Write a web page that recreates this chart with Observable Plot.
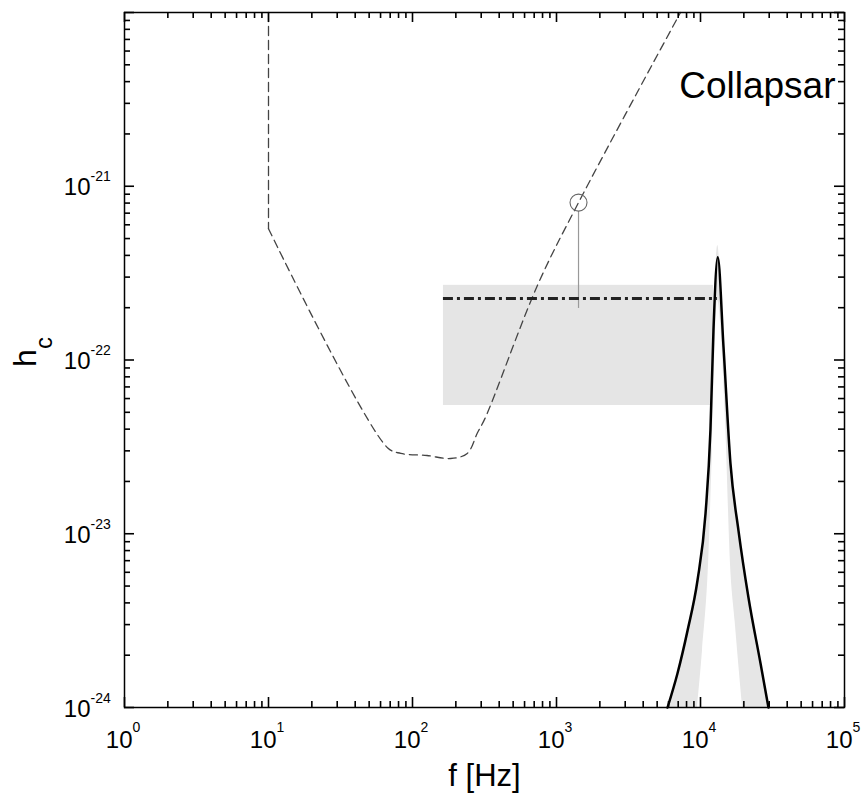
<!DOCTYPE html>
<html>
<head>
<meta charset="utf-8">
<script src="https://cdn.jsdelivr.net/npm/d3@7"></script>
<script src="https://cdn.jsdelivr.net/npm/@observablehq/plot@0.6"></script>
<style>
  html, body { margin: 0; padding: 0; background: #fff; }
  #chart { width: 863px; height: 794px; }
</style>
</head>
<body>
<div id="chart"></div>
<script>
// ---- Data ----
// Detector sensitivity curve (dashed)
const sensF = [10, 10, 67, 83, 126, 184, 240, 282, 321, 738, 1422, 7260];
const sensH = [1e-20, 5.7e-22, 3.13e-23, 2.9e-23, 2.82e-23, 2.71e-23, 2.9e-23, 3.8e-23, 4.67e-23, 2.69e-22, 8.05e-22, 1e-20];

// Collapsar peak (black outline)
const peakF = [5902, 6918, 8128, 9528, 10839, 11722, 12303, 13180, 14454, 16144, 18365, 21528, 26122, 29648];
const peakH = [1e-24, 1.57e-24, 2.77e-24, 5.38e-24, 1.31e-23, 3.94e-23, 1.48e-22, 3.9e-22, 1.18e-22, 2.54e-23, 1.04e-23, 4.3e-24, 1.79e-24, 1e-24];

// Gray envelope around the peak
const envF = [5902, 6918, 8128, 9528, 10839, 11722, 12303, 13180, 14454, 16144, 18365, 21528, 26122, 29648];
const envH = [1e-24, 1.57e-24, 2.77e-24, 5.38e-24, 1.31e-23, 3.94e-23, 1.48e-22, 4.56e-22, 1.18e-22, 2.54e-23, 1.04e-23, 4.3e-24, 1.79e-24, 1e-24];

// Inner (white) part of the peak
const innerF = [9530, 10328, 11376, 12106, 13120, 14928, 16144, 17378, 19588];
const innerH = [1e-24, 2.13e-24, 6.75e-24, 3.01e-23, 2.2e-22, 4.47e-23, 6.75e-24, 3.16e-24, 1e-24];

// Shaded band
const bandF = [164, 12300];
const bandH = [5.47e-23, 2.69e-22];

// Dash-dot level
const levelF = [164, 13100];
const levelH = [2.26e-22];

// Marked point with drop line
const pointF = [1422];
const pointH = [8.05e-22];
const dropH = [1.98e-22];

// Axis ticks
const xMajor = [1, 10, 100, 1000, 10000, 100000];
const xExp = ["0", "1", "2", "3", "4", "5"];
const yMajor = [1e-24, 1e-23, 1e-22, 1e-21, 1e-20];
const yLabeled = [1e-24, 1e-23, 1e-22, 1e-21];
const yExp = ["-24", "-23", "-22", "-21"];
const minorMult = [2, 3, 4, 5, 6, 7, 8, 9];

const label = "Collapsar";
const xLabel = "f [Hz]";

// ---- Build tables ----
const sens = sensF.map((f, i) => ({f, h: sensH[i]}));
const peak = peakF.map((f, i) => ({f, h: peakH[i]}));
const env = envF.map((f, i) => ({f, h: envH[i]}));
const inner = innerF.map((f, i) => ({f, h: innerH[i]}));
const xMinor = xMajor.slice(0, -1).flatMap(d => minorMult.map(m => d * m));
const yMinor = yMajor.slice(0, -1).flatMap(d => minorMult.map(m => d * m));
const xLab = xMajor.map((d, i) => ({d, e: xExp[i]}));
const yLab = yLabeled.map((d, i) => ({d, e: yExp[i]}));
const xLo = xMajor[0], xHi = xMajor[xMajor.length - 1];
const yLo = yMajor[0], yHi = yMajor[yMajor.length - 1];

const W = 863, H = 794, mL = 124, mR = 19, mT = 12, mB = 87;
const fw = W - mL - mR, fh = H - mT - mB;

const font = "'Liberation Sans', Arial, Helvetica, sans-serif";
const tk = {stroke: "black", strokeWidth: 1.6};

// inward ticks: full-frame rules trimmed by insets to a short stub at each edge
const ticksBottom = (v, len) => Plot.ruleX(v, {x: d => d, insetTop: fh - len, ...tk});
const ticksTop = (v, len) => Plot.ruleX(v, {x: d => d, insetBottom: fh - len, ...tk});
const ticksLeft = (v, len) => Plot.ruleY(v, {y: d => d, insetRight: fw - len, ...tk});
const ticksRight = (v, len) => Plot.ruleY(v, {y: d => d, insetLeft: fw - len, ...tk});

const chart = Plot.plot({
  width: W,
  height: H,
  marginLeft: mL,
  marginRight: mR,
  marginTop: mT,
  marginBottom: mB,
  style: {fontFamily: font, background: "white", color: "black"},
  x: {type: "log", domain: [xLo, xHi], axis: null},
  y: {type: "log", domain: [yLo, yHi], axis: null},
  marks: [
    // shaded band
    Plot.rect([0], {x1: bandF[0], x2: bandF[1], y1: bandH[0], y2: bandH[1], fill: "#e5e5e5"}),
    // gray envelope and inner white
    Plot.areaY(env, {x: "f", y1: yLo, y2: "h", fill: "#e6e6e6", curve: "monotone-x"}),
    Plot.areaY(inner, {x: "f", y1: yLo, y2: "h", fill: "white", curve: "monotone-x"}),
    // sensitivity curve
    Plot.line(sens.slice(0, 2), {x: "f", y: "h", stroke: "#444", strokeWidth: 1.3, strokeDasharray: "9,5"}),
    Plot.line(sens.slice(1), {x: "f", y: "h", stroke: "#444", strokeWidth: 1.3, strokeDasharray: "8,5", curve: "catmull-rom"}),
    // drop line and circle
    Plot.ruleX(pointF, {x: d => d, y1: pointH[0], y2: dropH[0], insetTop: 9, stroke: "#999", strokeWidth: 1.2}),
    Plot.dot(pointF, {x: d => d, y: pointH[0], r: 8.5, stroke: "#666", strokeWidth: 1.1, fill: "none"}),
    // dash-dot level
    Plot.ruleY(levelH, {x1: levelF[0], x2: levelF[1], y: d => d, stroke: "#222", strokeWidth: 3, strokeDasharray: "10,4,3,4"}),
    // peak outline
    Plot.line(peak, {x: "f", y: "h", stroke: "black", strokeWidth: 2.5, curve: "monotone-x"}),
    // frame
    Plot.frame({stroke: "black", strokeWidth: 1.5}),
    // inward ticks on all sides
    ticksBottom(xMajor, 10), ticksBottom(xMinor, 6),
    ticksTop(xMajor, 10), ticksTop(xMinor, 6),
    ticksLeft(yMajor, 10), ticksLeft(yMinor, 6),
    ticksRight(yMajor, 10), ticksRight(yMinor, 6),
    // x tick labels 10^n
    Plot.text(xLab, {x: "d", frameAnchor: "bottom", text: () => "10", textAnchor: "end", lineAnchor: "bottom", dx: 8, dy: 40, fontSize: 24, fill: "black"}),
    Plot.text(xLab, {x: "d", frameAnchor: "bottom", text: "e", textAnchor: "start", lineAnchor: "bottom", dx: 8, dy: 24, fontSize: 14, fill: "black"}),
    // y tick labels
    Plot.text(yLab, {y: "d", frameAnchor: "left", text: () => "10", textAnchor: "end", lineAnchor: "bottom", dx: -34, dy: 9, fontSize: 24, fill: "black"}),
    Plot.text(yLab, {y: "d", frameAnchor: "left", text: "e", textAnchor: "start", lineAnchor: "bottom", dx: -34, dy: -5, fontSize: 14, fill: "black"}),
    // axis titles
    Plot.text([xLabel], {frameAnchor: "bottom", text: d => d, lineAnchor: "bottom", dy: 78, fontSize: 31, fill: "black"}),
    Plot.text(["h"], {frameAnchor: "left", text: d => d, rotate: -90, lineAnchor: "middle", dx: -99, dy: 7, fontSize: 32, fill: "black"}),
    Plot.text(["c"], {frameAnchor: "left", text: d => d, rotate: -90, lineAnchor: "middle", dx: -80, dy: -11, fontSize: 24, fill: "black"}),
    // panel label
    Plot.text([label], {frameAnchor: "top-right", text: d => d, textAnchor: "end", lineAnchor: "bottom", dx: -9, dy: 85, fontSize: 37, fill: "black"})
  ]
});
document.getElementById("chart").appendChild(chart);
</script>
</body>
</html>
